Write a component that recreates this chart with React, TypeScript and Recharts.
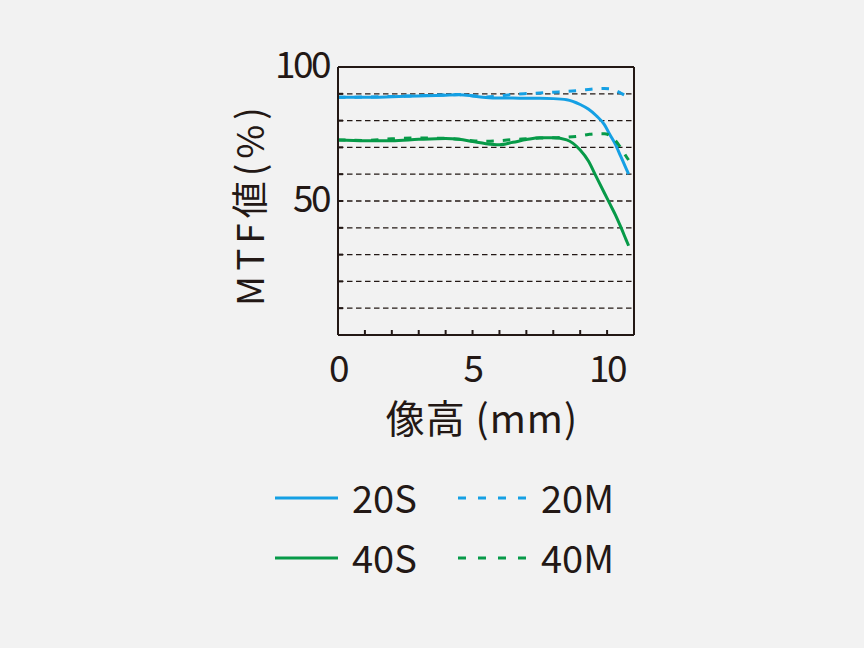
import React from 'react';
import {
  LineChart,
  Line,
  XAxis,
  YAxis,
  CartesianGrid,
  ReferenceLine,
  Legend,
} from 'recharts';

// Image height (mm)
const imageHeight = [0, 1, 2, 3, 4, 4.5, 5, 5.5, 6, 6.5, 7, 7.5, 8, 8.5, 9, 9.3, 9.6, 9.9, 10.1, 10.3, 10.5, 10.7, 10.8];
// MTF values (%)
const mtf20S = [88.7, 88.7, 88.9, 89.2, 89.5, 89.6, 89.2, 88.6, 88.4, 88.4, 88.3, 88.3, 88.2, 87.8, 86.0, 84.3, 81.8, 78.5, 74.8, 71.3, 66.8, 62.3, 60.0];
const mtf20M = [88.7, 88.8, 89.0, 89.3, 89.6, 89.7, 89.3, 88.8, 89.2, 89.8, 90.1, 90.3, 90.6, 90.9, 91.3, 91.6, 91.9, 92.0, 91.9, 91.3, 90.3, 89.2, 88.5];
const mtf40S = [72.8, 72.5, 72.5, 73.0, 73.3, 73.0, 72.2, 71.4, 71.0, 71.9, 72.9, 73.6, 73.6, 72.8, 69.0, 65.0, 59.0, 53.0, 49.0, 45.0, 40.5, 35.7, 33.3];
const mtf40M = [72.8, 72.6, 73.2, 73.5, 73.4, 73.0, 72.5, 72.3, 72.5, 72.9, 73.2, 73.5, 73.6, 73.8, 74.3, 74.8, 75.1, 75.1, 74.4, 72.7, 70.0, 66.8, 65.3];

const xTicks = [0, 1, 2, 3, 4, 5, 6, 7, 8, 9, 10, 11];
const xTickLabels = [0, 5, 10];
const yTicks = [0, 10, 20, 30, 40, 50, 60, 70, 80, 90, 100];
const yTickLabels = [50, 100];

const seriesNames = ['20S', '20M', '40S', '40M'];
const seriesKeys = ['s20', 'm20', 's40', 'm40'];

const INK = '#231815';
const BLUE = '#15a0e4';
const GREEN = '#079a48';
const FONT = '"Noto Sans CJK JP", "Noto Sans", sans-serif';

const seriesStyle: Record<string, { color: string; dash?: string }> = {
  s20: { color: BLUE },
  m20: { color: BLUE, dash: '7.5 9' },
  s40: { color: GREEN },
  m40: { color: GREEN, dash: '7.5 9' },
};

const data = imageHeight.map((x, i) => ({
  x,
  s20: mtf20S[i],
  m20: mtf20M[i],
  s40: mtf40S[i],
  m40: mtf40M[i],
}));

const XTick = (props: any) => {
  const { x, y, payload } = props;
  const v = payload.value;
  return (
    <g>
      {v > 0 && v < 11 && (
        <line x1={x} x2={x} y1={y} y2={y - 5} stroke={INK} strokeWidth={2} />
      )}
      {xTickLabels.includes(v) && (
        <text x={x} y={y + 47} textAnchor="middle" fontSize={37} fill={INK} fontFamily={FONT} letterSpacing={-2.5}>
          {v}
        </text>
      )}
    </g>
  );
};

const YTick = (props: any) => {
  const { x, y, payload } = props;
  const v = payload.value;
  return (
    <g>
      {v > 0 && v < 100 && (
        <line x1={x} x2={x + 5} y1={y} y2={y} stroke={INK} strokeWidth={2} />
      )}
      {yTickLabels.includes(v) && (
        <text x={x - 9} y={y + 11} textAnchor="end" fontSize={37} fill={INK} fontFamily={FONT} letterSpacing={-2.5}>
          {v}
        </text>
      )}
    </g>
  );
};

const YTitle = () => (
  <text
    x={248}
    y={204}
    transform="rotate(-90 248 204)"
    textAnchor="middle"
    dominantBaseline="central"
    fontSize={37}
    fill={INK}
    fontFamily={FONT}
    letterSpacing={5}
  >
    MTF値(%)
  </text>
);

const XTitle = () => (
  <text x={482} y={433} textAnchor="middle" fontSize={39} fill={INK} fontFamily={FONT} letterSpacing={1}>
    像高 (mm)
  </text>
);

const LegendContent = () => (
  <svg width={400} height={130} style={{ overflow: 'visible' }}>
    {seriesKeys.map((k, i) => {
      const r = Math.floor(i / 2);
      const c = i % 2;
      const st = seriesStyle[k];
      const ly = 28 + r * 60;
      const lx1 = c === 0 ? 15 : 198;
      const lx2 = c === 0 ? 78 : 266;
      const tx = c === 0 ? 92 : 281;
      return (
        <g key={k}>
          <line
            x1={lx1}
            x2={lx2}
            y1={ly}
            y2={ly}
            stroke={st.color}
            strokeWidth={3}
            strokeDasharray={st.dash ? '8 12' : undefined}
          />
          <text x={tx} y={ly + 15} fontSize={38} fill={INK} fontFamily={FONT}>
            {seriesNames[i]}
          </text>
        </g>
      );
    })}
  </svg>
);

export default function App() {
  return (
    <div
      style={{
        position: 'absolute',
        left: 0,
        top: 0,
        width: 864,
        height: 648,
        background: '#f2f2f2',
        fontFamily: FONT,
      }}
    >
      <LineChart
        width={864}
        height={648}
        data={data}
        margin={{ top: 67, right: 230, bottom: 283, left: 278 }}
      >
        <CartesianGrid
          vertical={false}
          stroke={INK}
          strokeWidth={1.3}
          strokeDasharray="5.5 3.5"
        />
        <XAxis
          dataKey="x"
          type="number"
          domain={[0, 11]}
          ticks={xTicks}
          interval={0}
          height={30}
          tickSize={0}
          tickMargin={0}
          tickLine={false}
          axisLine={{ stroke: INK, strokeWidth: 2 }}
          tick={<XTick />}
          label={<XTitle />}
        />
        <YAxis
          type="number"
          domain={[0, 100]}
          ticks={yTicks}
          interval={0}
          width={60}
          tickSize={0}
          tickMargin={0}
          tickLine={false}
          axisLine={{ stroke: INK, strokeWidth: 2 }}
          tick={<YTick />}
          label={<YTitle />}
        />
        <ReferenceLine y={100} stroke={INK} strokeWidth={2} />
        <ReferenceLine x={11} stroke={INK} strokeWidth={2} />
        {seriesKeys.map((k, i) => (
          <Line
            key={k}
            dataKey={k}
            name={seriesNames[i]}
            type="monotone"
            stroke={seriesStyle[k].color}
            strokeWidth={3}
            strokeDasharray={seriesStyle[k].dash}
            dot={false}
            activeDot={false}
            isAnimationActive={false}
          />
        ))}
        <Legend
          layout="horizontal"
          verticalAlign="middle"
          align="center"
          content={<LegendContent />}
          wrapperStyle={{ position: 'absolute', left: 260, top: 470, width: 400, height: 130 }}
        />
      </LineChart>
    </div>
  );
}
